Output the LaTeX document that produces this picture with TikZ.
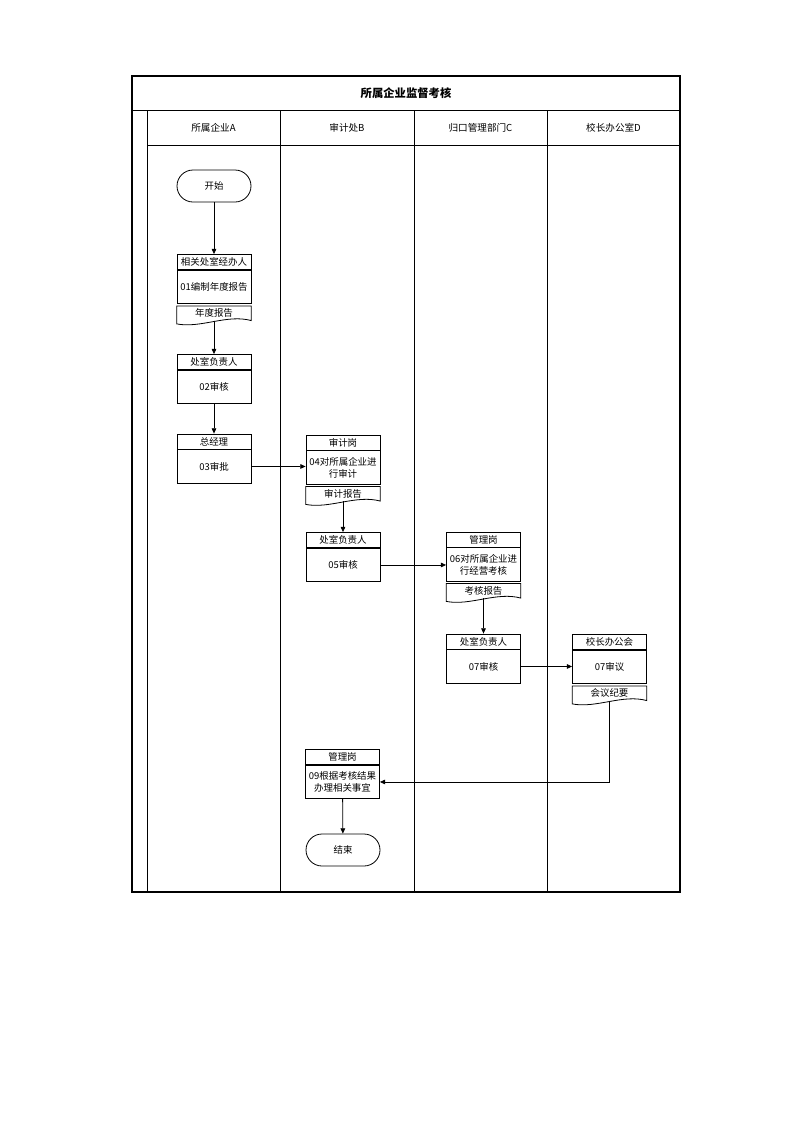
\documentclass[tikz,border=0pt]{standalone}
\usepackage{fontspec}
\setmainfont{Noto Sans CJK SC}
\usetikzlibrary{positioning,arrows.meta}
\tikzset{
  frame/.style={line width=0.9pt},
  lane/.style={line width=0.6pt},
  hd/.style={draw, line width=0.6pt, minimum width=55.5pt, minimum height=11.25pt, inner sep=0pt, font=\fontsize{7.1}{9}\selectfont},
  bd/.style={hd, minimum height=25pt, align=center},
  dc/.style={minimum width=55.5pt, minimum height=10.5pt, inner sep=0pt, font=\fontsize{7.1}{9}\selectfont},
  term/.style={draw, line width=0.6pt, rounded corners=12pt, minimum width=55.5pt, minimum height=24pt, font=\fontsize{7.1}{9}\selectfont},
  lanehd/.style={font=\fontsize{7.2}{8.5}\selectfont},
  flow/.style={line width=0.6pt, -{Triangle[length=4pt,width=3.5pt]}},
}
\begin{document}
\begin{tikzpicture}[x=0.75pt,y=-0.75pt]
\useasboundingbox (0,0) rectangle (793,1122);
% swimlanes
\draw[frame] (132,76) rectangle (680,892);
\draw[lane] (132,110) -- (680,110);
\draw[lane] (147,145) -- (680,145);
\foreach \x in {147,280,414,547}
  \draw[lane] (\x,110) -- (\x,892);
\node[font=\fontsize{8.5}{10}\selectfont\bfseries] (title) at (406,93) {所属企业监督考核};
\node[lanehd] (laneA) at (213.5,127.5) {所属企业A};
\node[lanehd] (laneB) at (347,127.5) {审计处B};
\node[lanehd] (laneC) at (480.5,127.5) {归口管理部门C};
\node[lanehd] (laneD) at (613.5,127.5) {校长办公室D};
% steps
\node[term] (start) at (214,186) {开始};
\node[hd] (h1) at (214,262) {相关处室经办人};
\node[bd, below=0pt of h1] (b1) {01编制年度报告};
\node[dc, below=1.5pt of b1] (d1) {年度报告};
\node[hd] (h2) at (214,362) {处室负责人};
\node[bd, below=0pt of h2] (b2) {02审核};
\node[hd] (h3) at (214,441.5) {总经理};
\node[bd, below=0pt of h3] (b3) {03审批};
\node[hd] (h4) at (343,442.5) {审计岗};
\node[bd, below=0pt of h4] (b4) {04对所属企业进\\行审计};
\node[dc, below=1.5pt of b4] (d4) {审计报告};
\node[hd] (h5) at (343,540) {处室负责人};
\node[bd, below=0pt of h5] (b5) {05审核};
\node[hd] (h6) at (483.5,539.5) {管理岗};
\node[bd, below=0pt of h6] (b6) {06对所属企业进\\行经营考核};
\node[dc, below=1.5pt of b6] (d6) {考核报告};
\node[hd] (h7) at (483.5,641.5) {处室负责人};
\node[bd, below=0pt of h7] (b7) {07审核};
\node[hd] (h8) at (609.5,642) {校长办公会};
\node[bd, below=0pt of h8] (b8) {07审议};
\node[dc, below=1.5pt of b8] (d8) {会议纪要};
\node[hd] (h9) at (342.5,757) {管理岗};
\node[bd, below=0pt of h9] (b9) {09根据考核结果\\办理相关事宜};
\node[term] (end) at (343,850) {结束};
% documents
\foreach \d in {d1,d4,d6,d8}
  \draw[line width=0.6pt] (\d.north west) -- (\d.north east) -- (\d.south east)
    .. controls ([xshift=-18pt,yshift=5pt]\d.south east) and ([xshift=18pt,yshift=-6pt]\d.south west) .. ([yshift=-2.5pt]\d.south west) -- cycle;
% flow
\draw[flow] (start) -- (h1);
\draw[flow] (d1.south) -- (h2.north);
\draw[flow] (b2) -- (h3);
\draw[flow] (b3.east) -- (b3.east -| b4.west);
\draw[flow] (d4.south) -- (h5.north);
\draw[flow] (b5.east) -- (b5.east -| b6.west);
\draw[flow] (d6.south) -- (h7.north);
\draw[flow] (b7.east) -- (b7.east -| b8.west);
\draw[flow] (d8.south) |- (b9.east);
\draw[flow] (b9) -- (end);
\end{tikzpicture}
\end{document}
